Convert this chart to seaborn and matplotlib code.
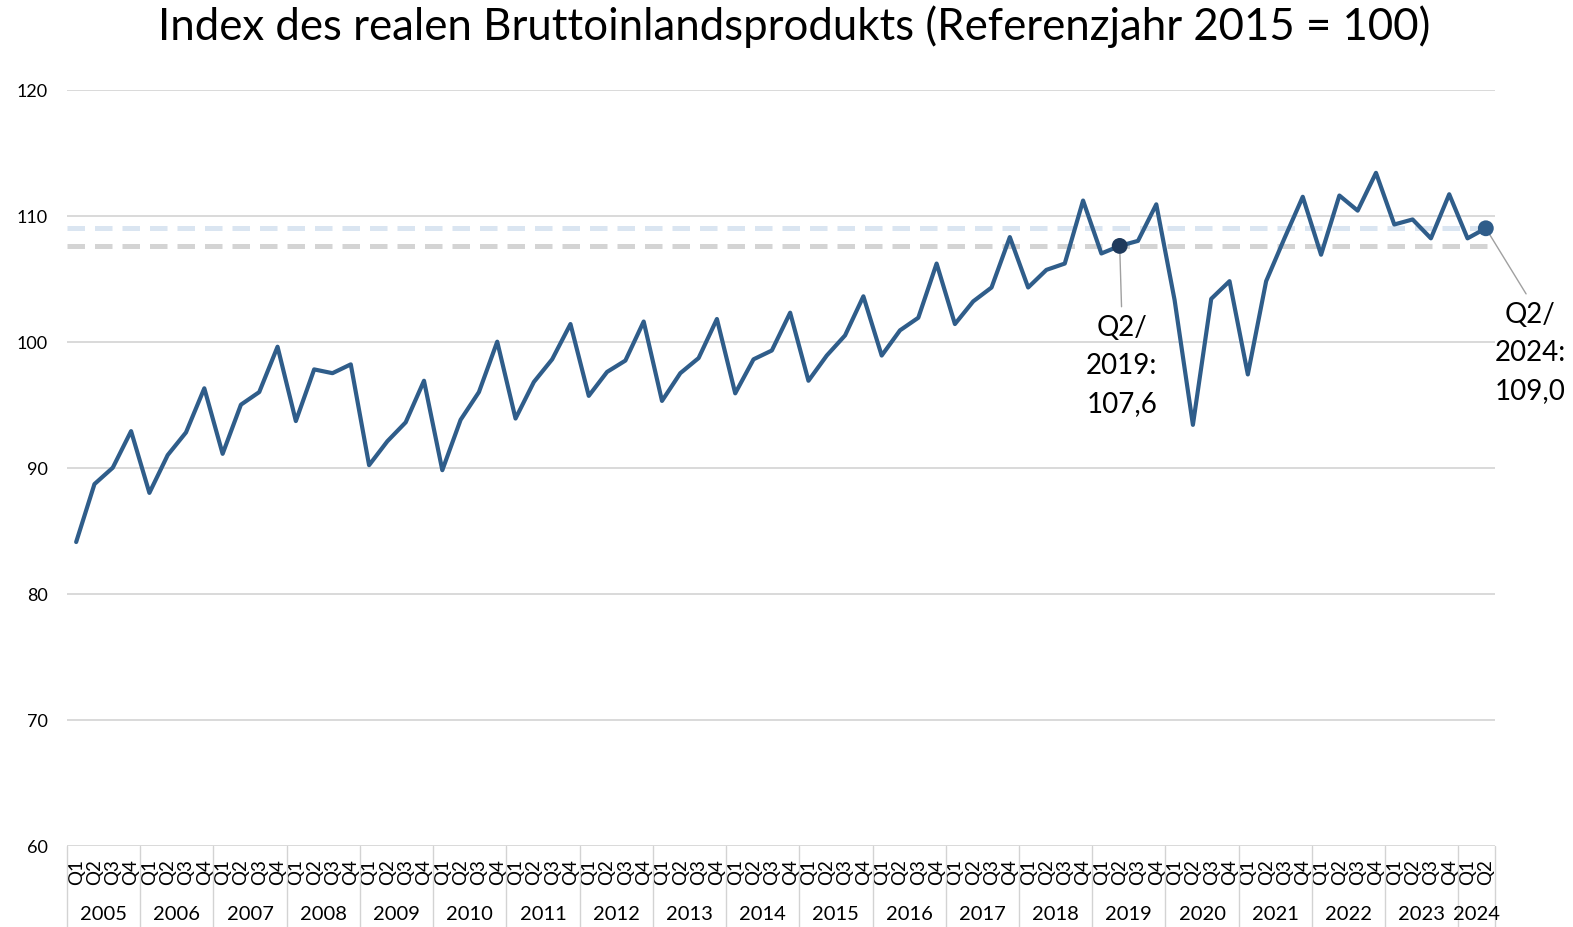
import numpy as np
import pandas as pd
import matplotlib
matplotlib.use("Agg")
import matplotlib.pyplot as plt
import matplotlib.transforms as mtransforms
import seaborn as sns

# -----------------------------
# Data
# -----------------------------
years = [str(y) for y in range(2005, 2025)]
quarters = ["Q1", "Q2", "Q3", "Q4"]

bip_index = [
    84.1, 88.7, 90.0, 92.9,     # 2005
    88.0, 91.0, 92.8, 96.3,     # 2006
    91.1, 95.0, 96.0, 99.6,     # 2007
    93.7, 97.8, 97.5, 98.2,     # 2008
    90.2, 92.1, 93.6, 96.9,     # 2009
    89.8, 93.8, 96.0, 100.0,    # 2010
    93.9, 96.8, 98.6, 101.4,    # 2011
    95.7, 97.6, 98.5, 101.6,    # 2012
    95.3, 97.5, 98.7, 101.8,    # 2013
    95.9, 98.6, 99.3, 102.3,    # 2014
    96.9, 98.9, 100.5, 103.6,   # 2015
    98.9, 100.9, 101.9, 106.2,  # 2016
    101.4, 103.2, 104.3, 108.3, # 2017
    104.3, 105.7, 106.2, 111.2, # 2018
    107.0, 107.6, 108.0, 110.9, # 2019
    103.3, 93.4, 103.4, 104.8,  # 2020
    97.4, 104.8, 108.2, 111.5,  # 2021
    106.9, 111.6, 110.4, 113.4, # 2022
    109.3, 109.7, 108.2, 111.7, # 2023
    108.2, 109.0,               # 2024
]

yticks = [60, 70, 80, 90, 100, 110, 120]
highlight_labels = ["Q2/\n2019:\n107,6", "Q2/\n2024:\n109,0"]

# -----------------------------
# Build frame
# -----------------------------
n = len(bip_index)
df = pd.DataFrame({
    "pos": np.arange(n),
    "year": [years[i // 4] for i in range(n)],
    "quarter": [quarters[i % 4] for i in range(n)],
    "value": bip_index,
})
i_2019 = df.index[(df["year"] == "2019") & (df["quarter"] == "Q2")][0]
i_last = n - 1

# -----------------------------
# Plot
# -----------------------------
sns.set_style("white")
plt.rcParams["font.family"] = ["Lato", "DejaVu Sans"]
plt.rcParams["text.color"] = "black"
plt.rcParams["xtick.color"] = "black"
plt.rcParams["ytick.color"] = "black"

line_color = "#2F5D8A"
dot_dark = "#1F3A5C"
grid_color = "#D3D3D3"

fig = plt.figure(figsize=(15.73, 9.28), dpi=100)
ax = fig.add_axes([0.0426, 0.0876, 0.9078, 0.8147])

# reference lines at the highlighted values
ax.axhline(df.loc[i_last, "value"], color="#DAE5F1", lw=3.6, dashes=(3.5, 2), zorder=1)
ax.axhline(df.loc[i_2019, "value"], color="#D4D4D4", lw=3.6, dashes=(3.5, 2), zorder=1)

sns.lineplot(data=df, x="pos", y="value", color=line_color, lw=3.0, ax=ax, zorder=3)

sns.scatterplot(x=[df.loc[i_2019, "pos"]], y=[df.loc[i_2019, "value"]], color=dot_dark,
                s=130, edgecolor="none", ax=ax, zorder=4)
sns.scatterplot(x=[df.loc[i_last, "pos"]], y=[df.loc[i_last, "value"]], color=line_color,
                s=130, edgecolor="none", ax=ax, zorder=4)

# annotations
ax.annotate(highlight_labels[0], xy=(df.loc[i_2019, "pos"], df.loc[i_2019, "value"]),
            xytext=(1.5, -86), textcoords="offset points", ha="center", va="center",
            fontsize=20, linespacing=1.58,
            arrowprops=dict(arrowstyle="-", color="#A0A0A0", lw=1.0,
                            relpos=(0.5, 1.0), shrinkA=3, shrinkB=4),
            annotation_clip=False)
ax.annotate(highlight_labels[1], xy=(df.loc[i_last, "pos"], df.loc[i_last, "value"]),
            xytext=(32, -89), textcoords="offset points", ha="center", va="center",
            fontsize=20, linespacing=1.58,
            arrowprops=dict(arrowstyle="-", color="#A0A0A0", lw=1.0,
                            relpos=(0.5, 1.0), shrinkA=3, shrinkB=4),
            annotation_clip=False)

# axes styling
ax.set_xlim(-0.5, n - 0.5)
ax.set_ylim(60, 120)
ax.set_yticks(yticks)
ax.set_yticklabels([str(t) for t in yticks], fontsize=13)
ax.yaxis.grid(True, color=grid_color, lw=1.2)
ax.xaxis.grid(False)
for s in ax.spines.values():
    s.set_visible(False)
ax.tick_params(axis="y", length=0, pad=14)
ax.set_xticks(df["pos"])
ax.set_xticklabels(df["quarter"], rotation=90, fontsize=13.5)
ax.tick_params(axis="x", length=0, pad=9)
ax.set_xlabel("")
ax.set_ylabel("")

# year labels and separators under the axis
trans = mtransforms.blended_transform_factory(ax.transData, ax.transAxes)
for k, yr in enumerate(years):
    members = df.loc[df["year"] == yr, "pos"]
    ax.text(members.mean(), -0.090, yr, transform=trans, ha="center", va="center",
            fontsize=14.5)
    ax.plot([members.min() - 0.5] * 2, [0, -0.12], transform=trans, color=grid_color,
            lw=1.0, clip_on=False)
ax.plot([n - 0.5] * 2, [0, -0.12], transform=trans, color=grid_color, lw=1.0, clip_on=False)

fig.text(0.505, 1 - 27 / 928, "Index des realen Bruttoinlandsprodukts (Referenzjahr 2015 = 100)",
         ha="center", va="center", fontsize=31.5)

fig.savefig("out.png", dpi=100)
